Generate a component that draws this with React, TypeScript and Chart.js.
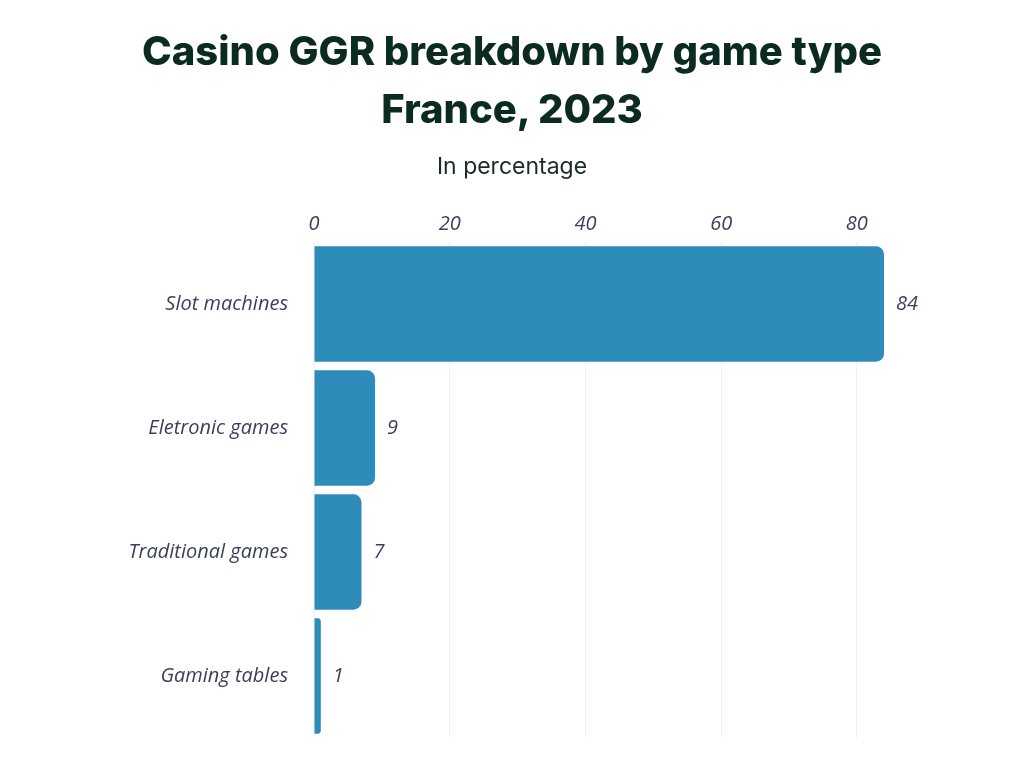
import React, { useEffect, useRef } from "react";
import { Chart, registerables } from "chart.js";
Chart.register(...registerables);

const categories = ["Slot machines", "Eletronic games", "Traditional games", "Gaming tables"];
const values = [84, 9, 7, 1];
const tickValues = [0, 20, 40, 60, 80];

const labelPlugin = {
  id: "valLabels",
  afterDatasetsDraw(chart: any) {
    const ctx = chart.ctx;
    const meta = chart.getDatasetMeta(0);
    ctx.save();
    ctx.font = "italic 20px 'Open Sans'";
    ctx.fillStyle = "#3a3f5c";
    ctx.textBaseline = "middle";
    meta.data.forEach((el: any, i: number) => {
      ctx.fillText(String(values[i]), el.x + 12, el.y);
    });
    ctx.restore();
  },
};

export default function App() {
  const ref = useRef<HTMLCanvasElement>(null);
  useEffect(() => {
    const chart = new Chart(ref.current!, {
      type: "bar",
      data: {
        labels: categories,
        datasets: [{
          data: values,
          backgroundColor: "#2e8cba",
          borderRadius: { topRight: 8, bottomRight: 8, topLeft: 0, bottomLeft: 0 },
          borderSkipped: false,
          barPercentage: 0.93,
          categoryPercentage: 1,
        }],
      },
      options: {
        indexAxis: "y",
        animation: false,
        responsive: false,
        layout: { padding: { top: 200, left: 0, right: 140, bottom: 30 } },
        plugins: { legend: { display: false }, tooltip: { enabled: false } },
        scales: {
          x: {
            position: "top",
            min: 0,
            max: 84,
            afterBuildTicks: (s: any) => { s.ticks = tickValues.map((v) => ({ value: v })); },
            afterFit: (s: any) => { s.height = 42; },
            grid: { color: "#f0f0f0", drawTicks: false },
            border: { display: false },
            ticks: { font: { family: "'Open Sans'", size: 20, style: "italic" }, color: "#3a3f5c", padding: 6 },
          },
          y: {
            afterFit: (s: any) => { s.width = 314; },
            grid: { display: false },
            border: { display: false },
            ticks: { font: { family: "'Open Sans'", size: 20, style: "italic" }, color: "#3a3f5c", padding: 18 },
          },
        },
      },
      plugins: [labelPlugin],
    });
    return () => chart.destroy();
  }, []);
  return (
    <div style={{ position: "fixed", left: 0, top: 0, width: 1024, height: 768, background: "#fff" }}>
      <canvas ref={ref} width={1024} height={768} style={{ position: "absolute", left: 0, top: 0 }} />
      <div style={{ position: "absolute", top: 22, left: 0, width: 1024, textAlign: "center", fontFamily: "Inter, sans-serif", fontWeight: 800, fontSize: 40, lineHeight: "58px", color: "#0b2a22" }}>
        Casino GGR breakdown by game type<br />France, 2023
      </div>
      <div style={{ position: "absolute", top: 152, left: 0, width: 1024, textAlign: "center", fontFamily: "Inter, sans-serif", fontSize: 23, color: "#1c2a2a" }}>
        In percentage
      </div>
    </div>
  );
}
